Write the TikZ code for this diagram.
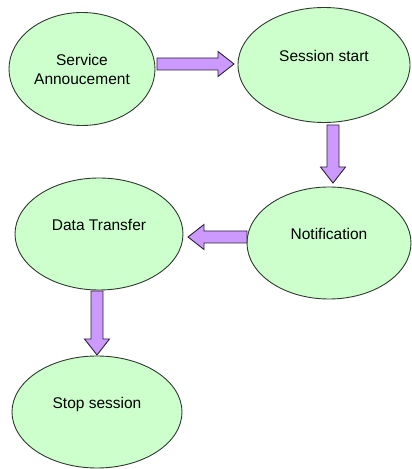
\documentclass[tikz,border=0pt]{standalone}
\usepackage{fontspec}
\setmainfont{Liberation Sans}
\usetikzlibrary{calc,shapes.geometric}

\definecolor{stagefill}{HTML}{CCFFCC}
\definecolor{stageline}{HTML}{2E3A2E}
\definecolor{flowfill}{HTML}{CC99FF}
\definecolor{flowline}{HTML}{2A2233}

\tikzset{
  stage/.style={ellipse, draw=stageline, line width=0.9pt, fill=stagefill,
    inner sep=0pt, align=center, font=\fontsize{15.5}{19}\selectfont},
  raised/.style={text depth=19pt},
  flow/.style={draw=flowline, line width=0.9pt, fill=flowfill, line join=miter}
}

% block arrow from #1 to #2
\newcommand\blockarrow[2]{%
  \coordinate (hb) at ($(#2)!16pt!(#1)$);
  \draw[flow] ($(#1)!6pt!90:(#2)$) -- ($(hb)!6pt!90:(#2)$) -- ($(hb)!12.5pt!90:(#2)$)
    -- (#2) -- ($(hb)!12.5pt!-90:(#2)$) -- ($(hb)!6pt!-90:(#2)$)
    -- ($(#1)!6pt!-90:(#2)$) -- cycle;
}

\begin{document}
\begin{tikzpicture}[x=1pt,y=1pt]
\useasboundingbox (0,0) rectangle (412,469);
\fill[white] (0,0) rectangle (412,469);

\node[stage, minimum width=146pt, minimum height=113pt] (sa) at (82,400) {Service\\Annoucement};
\node[stage, raised, minimum width=172pt, minimum height=115pt] (ss) at (324,404) {Session start};
\node[stage, raised, minimum width=164pt, minimum height=112pt] (nt) at (329,226) {Notification};
\node[stage, raised, minimum width=168pt, minimum height=112pt] (dt) at (99,235) {Data Transfer};
\node[stage, raised, minimum width=170pt, minimum height=112pt] (st) at (97,57) {Stop session};

\coordinate (a1s) at (157,405);
\coordinate (a1e) at (234,405);
\coordinate (a2s) at (333,344);
\coordinate (a2e) at (333,286);
\coordinate (a3s) at (247,232);
\coordinate (a3e) at (188,232);
\coordinate (a4s) at (97,178);
\coordinate (a4e) at (97,114);

\blockarrow{a1s}{a1e}
\blockarrow{a2s}{a2e}
\blockarrow{a3s}{a3e}
\blockarrow{a4s}{a4e}
\end{tikzpicture}
\end{document}
